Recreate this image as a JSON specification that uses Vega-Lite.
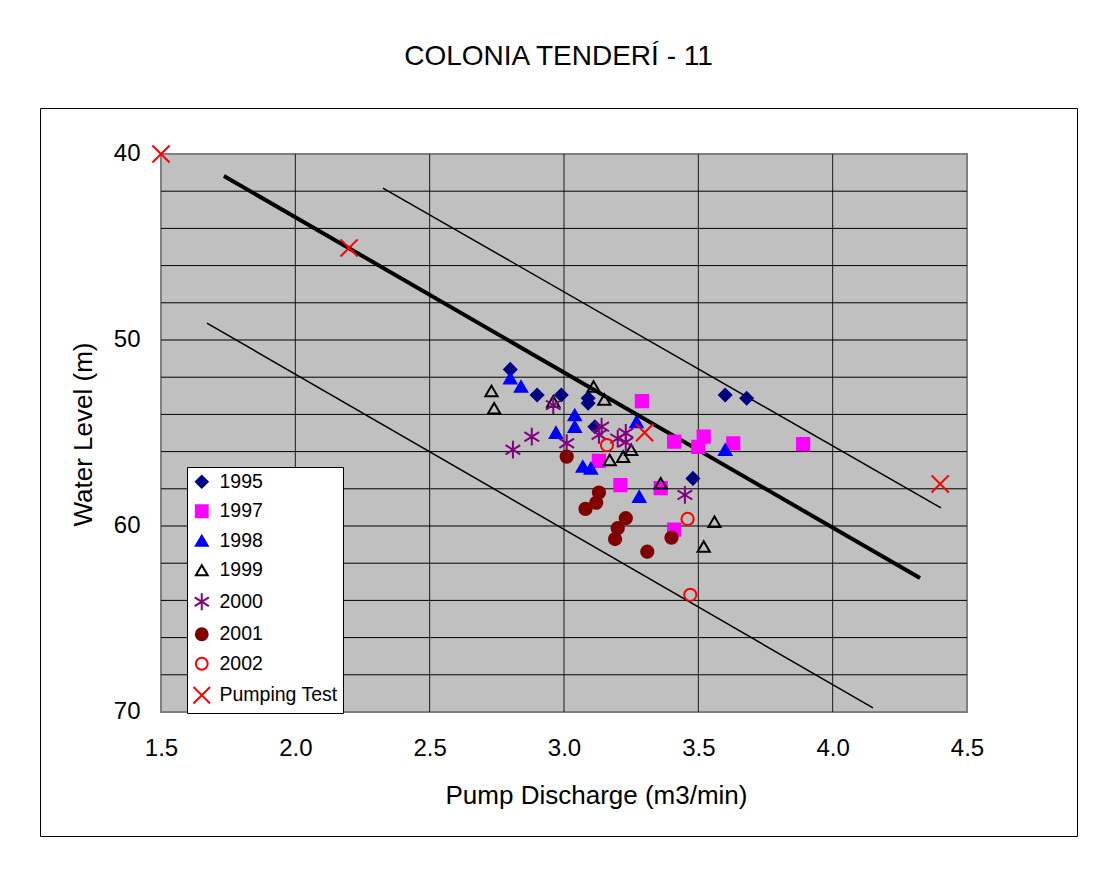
{
  "$schema": "https://vega.github.io/schema/vega-lite/v6.json",
  "width": 1037,
  "height": 728,
  "autosize": {"type": "none"},
  "padding": {"left": 40, "top": 108, "right": 30, "bottom": 35},
  "background": "#ffffff",
  "title": {
    "text": "COLONIA TENDERÍ - 11",
    "font": "Liberation Sans",
    "fontSize": 28,
    "fontWeight": "normal",
    "color": "#000000",
    "anchor": "middle",
    "baseline": "alphabetic",
    "offset": 15
  },
  "config": {
    "view": {"stroke": "#000000", "strokeWidth": 1},
    "font": "Liberation Sans",
    "axis": {
      "labelFont": "Liberation Sans",
      "titleFont": "Liberation Sans",
      "labelColor": "#000000",
      "titleColor": "#000000",
      "labelFontSize": 24,
      "titleFontSize": 26,
      "titleFontWeight": "normal",
      "grid": false,
      "ticks": false,
      "domain": false
    }
  },
  "encoding": {
    "x": {
      "field": "q",
      "type": "quantitative",
      "scale": {"domain": [1.04963, 4.90943], "nice": false, "zero": false},
      "axis": {
        "title": "Pump Discharge (m3/min)",
        "values": [1.5, 2, 2.5, 3, 3.5, 4, 4.5],
        "format": ".1f",
        "offset": -124,
        "labelPadding": 36,
        "labelBaseline": "middle",
        "titleX": 556,
        "titleY": 91,
        "titleBaseline": "alphabetic",
        "titleAlign": "center"
      }
    },
    "y": {
      "field": "wl",
      "type": "quantitative",
      "scale": {"domain": [37.527, 76.667], "nice": false, "zero": false, "reverse": true},
      "axis": {
        "title": "Water Level (m)",
        "values": [40, 50, 60, 70],
        "offset": -121,
        "labelPadding": 21,
        "titleX": -78,
        "titleY": 326,
        "titleAngle": -90,
        "titleBaseline": "middle",
        "titleAlign": "center"
      }
    }
  },
  "layer": [
    {
      "data": {"values": [{"q": 1.5, "q2": 4.5, "wl": 40, "wl2": 70}]},
      "mark": {"type": "rect", "fill": "#C0C0C0", "stroke": "#808080", "strokeWidth": 2},
      "encoding": {"x2": {"field": "q2"}, "y2": {"field": "wl2"}}
    },
    {
      "data": {"values": [
        {"q": 2.0, "wl": 40, "wl2": 70},
        {"q": 2.5, "wl": 40, "wl2": 70},
        {"q": 3.0, "wl": 40, "wl2": 70},
        {"q": 3.5, "wl": 40, "wl2": 70},
        {"q": 4.0, "wl": 40, "wl2": 70}
      ]},
      "mark": {"type": "rule", "color": "#1a1a1a", "strokeWidth": 1},
      "encoding": {"y2": {"field": "wl2"}}
    },
    {
      "data": {"values": [
        {"q": 1.5, "q2": 4.5, "wl": 42},
        {"q": 1.5, "q2": 4.5, "wl": 44},
        {"q": 1.5, "q2": 4.5, "wl": 46},
        {"q": 1.5, "q2": 4.5, "wl": 48},
        {"q": 1.5, "q2": 4.5, "wl": 50},
        {"q": 1.5, "q2": 4.5, "wl": 52},
        {"q": 1.5, "q2": 4.5, "wl": 54},
        {"q": 1.5, "q2": 4.5, "wl": 56},
        {"q": 1.5, "q2": 4.5, "wl": 58},
        {"q": 1.5, "q2": 4.5, "wl": 60},
        {"q": 1.5, "q2": 4.5, "wl": 62},
        {"q": 1.5, "q2": 4.5, "wl": 64},
        {"q": 1.5, "q2": 4.5, "wl": 66},
        {"q": 1.5, "q2": 4.5, "wl": 68}
      ]},
      "mark": {"type": "rule", "color": "#000000", "strokeWidth": 1},
      "encoding": {"x2": {"field": "q2"}}
    },
    {
      "data": {"values": [
        {"line": "fit", "q": 1.734, "wl": 41.18},
        {"line": "fit", "q": 4.325, "wl": 62.8}
      ]},
      "mark": {"type": "line", "color": "#000000", "strokeWidth": 4},
      "encoding": {"detail": {"field": "line"}}
    },
    {
      "data": {"values": [
        {"line": "upper", "q": 2.326, "wl": 41.83},
        {"line": "upper", "q": 4.403, "wl": 59.03},
        {"line": "lower", "q": 1.671, "wl": 49.09},
        {"line": "lower", "q": 4.15, "wl": 69.78}
      ]},
      "mark": {"type": "line", "color": "#000000", "strokeWidth": 1.5},
      "encoding": {"detail": {"field": "line"}}
    },
    {
      "data": {"values": [
        {"series": "1995", "q": 2.80, "wl": 51.58},
        {"series": "1995", "q": 2.90, "wl": 52.96},
        {"series": "1995", "q": 2.99, "wl": 52.96},
        {"series": "1995", "q": 3.09, "wl": 53.13},
        {"series": "1995", "q": 3.09, "wl": 53.40},
        {"series": "1995", "q": 3.115, "wl": 54.66},
        {"series": "1995", "q": 3.60, "wl": 52.96},
        {"series": "1995", "q": 3.68, "wl": 53.13},
        {"series": "1995", "q": 3.48, "wl": 57.44},
        {"series": "1997", "q": 3.29, "wl": 53.28},
        {"series": "1997", "q": 3.13, "wl": 56.5},
        {"series": "1997", "q": 3.21, "wl": 57.8},
        {"series": "1997", "q": 3.36, "wl": 57.97},
        {"series": "1997", "q": 3.41, "wl": 60.2},
        {"series": "1997", "q": 3.41, "wl": 55.47},
        {"series": "1997", "q": 3.52, "wl": 55.2},
        {"series": "1997", "q": 3.50, "wl": 55.74},
        {"series": "1997", "q": 3.63, "wl": 55.56},
        {"series": "1997", "q": 3.89, "wl": 55.6},
        {"series": "1998", "q": 2.80, "wl": 52.06},
        {"series": "1998", "q": 2.84, "wl": 52.5},
        {"series": "1998", "q": 3.04, "wl": 54.03},
        {"series": "1998", "q": 3.04, "wl": 54.66},
        {"series": "1998", "q": 2.97, "wl": 54.98},
        {"series": "1998", "q": 3.07, "wl": 56.8},
        {"series": "1998", "q": 3.10, "wl": 56.9},
        {"series": "1998", "q": 3.27, "wl": 54.4},
        {"series": "1998", "q": 3.28, "wl": 58.42},
        {"series": "1998", "q": 3.60, "wl": 55.9},
        {"series": "1999", "q": 2.73, "wl": 52.74},
        {"series": "1999", "q": 2.74, "wl": 53.67},
        {"series": "1999", "q": 2.96, "wl": 53.3},
        {"series": "1999", "q": 3.11, "wl": 52.5},
        {"series": "1999", "q": 3.15, "wl": 53.2},
        {"series": "1999", "q": 3.17, "wl": 56.45},
        {"series": "1999", "q": 3.22, "wl": 56.27},
        {"series": "1999", "q": 3.25, "wl": 55.9},
        {"series": "1999", "q": 3.36, "wl": 57.7},
        {"series": "1999", "q": 3.56, "wl": 59.77},
        {"series": "1999", "q": 3.52, "wl": 61.1},
        {"series": "2000", "q": 2.81, "wl": 55.9},
        {"series": "2000", "q": 2.88, "wl": 55.2},
        {"series": "2000", "q": 2.96, "wl": 53.5},
        {"series": "2000", "q": 3.01, "wl": 55.55},
        {"series": "2000", "q": 3.14, "wl": 54.66},
        {"series": "2000", "q": 3.13, "wl": 55.1},
        {"series": "2000", "q": 3.20, "wl": 55.3},
        {"series": "2000", "q": 3.23, "wl": 55.0},
        {"series": "2000", "q": 3.23, "wl": 55.5},
        {"series": "2000", "q": 3.45, "wl": 58.33},
        {"series": "2001", "q": 3.01, "wl": 56.27},
        {"series": "2001", "q": 3.13, "wl": 58.2},
        {"series": "2001", "q": 3.12, "wl": 58.75},
        {"series": "2001", "q": 3.08, "wl": 59.08},
        {"series": "2001", "q": 3.23, "wl": 59.58},
        {"series": "2001", "q": 3.20, "wl": 60.12},
        {"series": "2001", "q": 3.19, "wl": 60.7},
        {"series": "2001", "q": 3.31, "wl": 61.38},
        {"series": "2001", "q": 3.40, "wl": 60.63},
        {"series": "2002", "q": 3.16, "wl": 55.65},
        {"series": "2002", "q": 3.46, "wl": 59.62},
        {"series": "2002", "q": 3.47, "wl": 63.7},
        {"series": "Pumping Test", "q": 1.5, "wl": 40},
        {"series": "Pumping Test", "q": 2.2, "wl": 45.05},
        {"series": "Pumping Test", "q": 3.3, "wl": 54.98},
        {"series": "Pumping Test", "q": 4.4, "wl": 57.74}
      ]},
      "mark": {"type": "point", "size": 150, "strokeWidth": 2, "opacity": 1},
      "encoding": {
        "shape": {
          "field": "series",
          "type": "nominal",
          "scale": {
            "domain": ["1995", "1997", "1998", "1999", "2000", "2001", "2002", "Pumping Test"],
            "range": ["diamond", "square", "triangle-up", "triangle-up", "M0,-1.45L0,1.45M-1.2,-0.75L1.2,0.75M-1.2,0.75L1.2,-0.75", "circle", "circle", "M-1.4,-1.4L1.4,1.4M-1.4,1.4L1.4,-1.4"]
          },
          "legend": {
            "title": null,
            "orient": "none",
            "legendX": 147,
            "legendY": 359,
            "strokeColor": "#000000",
            "fillColor": "#ffffff",
            "padding": 5,
            "cornerRadius": 0,
            "labelFont": "Liberation Sans",
            "labelFontSize": 19.5,
            "labelColor": "#000000",
            "labelOffset": 8,
            "symbolSize": 140,
            "symbolStrokeWidth": 2,
            "rowPadding": 8.5
          }
        },
        "fill": {
          "field": "series",
          "type": "nominal",
          "scale": {
            "domain": ["1995", "1997", "1998", "1999", "2000", "2001", "2002", "Pumping Test"],
            "range": ["#000080", "#FF00FF", "#0000FF", "transparent", "transparent", "#800000", "transparent", "transparent"]
          }
        },
        "stroke": {
          "field": "series",
          "type": "nominal",
          "scale": {
            "domain": ["1995", "1997", "1998", "1999", "2000", "2001", "2002", "Pumping Test"],
            "range": ["#000080", "#FF00FF", "#0000FF", "#000000", "#800080", "#800000", "#FF0000", "#FF0000"]
          }
        }
      }
    }
  ]
}
